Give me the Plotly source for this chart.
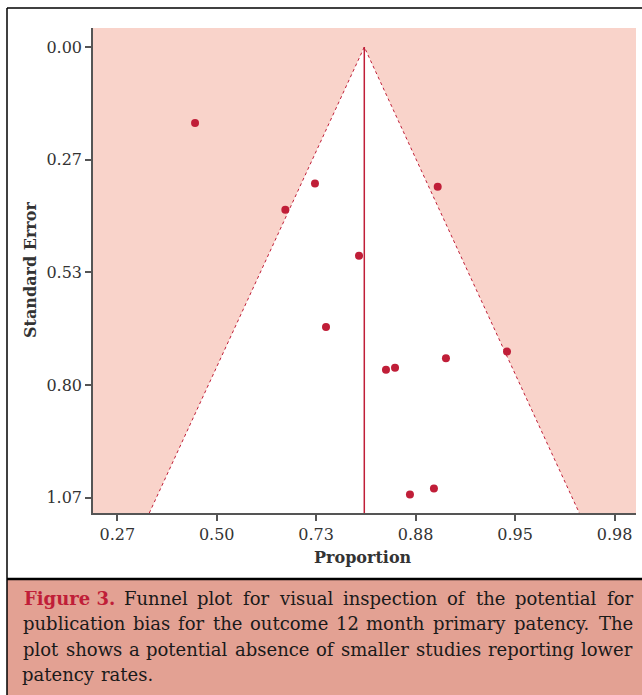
import plotly.graph_objects as go

# Study data: logit(proportion) and standard error
logit_prop = [-0.218, 0.988, 2.222, 0.690, 1.431, 1.099, 2.919, 2.305, 1.702, 1.793, 2.184, 1.943]
std_err = [0.180, 0.323, 0.331, 0.385, 0.494, 0.663, 0.721, 0.737, 0.764, 0.759, 1.045, 1.059]
pooled = 1.484
z = 1.96

x_tickvals = [-1, 0, 1, 2, 3, 4]
x_ticktext = ["0.27", "0.50", "0.73", "0.88", "0.95", "0.98"]
y_tickvals = [0, 0.26667, 0.53333, 0.8, 1.06667]
y_ticktext = ["0.00", "0.27", "0.53", "0.80", "1.07"]

x_range = [-1.244, 4.216]
y_range = [1.103, -0.045]
se_max = y_range[0]

caption_label = "Figure 3."
caption_lines = [
    "Funnel plot for visual inspection of the potential for",
    "publication bias for the outcome 12 month primary patency. The",
    "plot shows a potential absence of smaller studies reporting lower",
    "patency rates.",
]

RED = "#c01e38"
PINK = "#f9d3ca"
CAP_BG = "#e3a193"
FONT = "DejaVu Serif"

W, H = 642, 695
L, R, T, B = 93, 6, 28, 182
PW, PH = W - L - R, H - T - B

def px(x):
    return (x - L) / PW

def py(y):
    return (H - B - y) / PH

fig = go.Figure()

# white funnel region
fig.add_trace(go.Scatter(
    x=[pooled - z * se_max, pooled, pooled + z * se_max],
    y=[se_max, 0, se_max],
    fill="toself", fillcolor="white", mode="lines",
    line=dict(width=0), hoverinfo="skip", showlegend=False))
# funnel edges
fig.add_trace(go.Scatter(
    x=[pooled - z * se_max, pooled, pooled + z * se_max],
    y=[se_max, 0, se_max],
    mode="lines", line=dict(color=RED, width=1, dash="dot"),
    hoverinfo="skip", showlegend=False))
# pooled line
fig.add_trace(go.Scatter(
    x=[pooled, pooled], y=[0, se_max], mode="lines",
    line=dict(color=RED, width=1.5), showlegend=False))
# studies
fig.add_trace(go.Scatter(
    x=logit_prop, y=std_err, mode="markers",
    marker=dict(color=RED, size=8), showlegend=False))

axis_common = dict(
    showline=True, linecolor="#555", linewidth=1.5, ticks="outside",
    ticklen=6, tickwidth=1.5, tickcolor="#555", showgrid=False, zeroline=False,
    tickfont=dict(family=FONT, size=16, color="#333"))

fig.update_xaxes(range=x_range, tickvals=x_tickvals, ticktext=x_ticktext, **axis_common)
fig.update_yaxes(range=y_range, tickvals=y_tickvals, ticktext=y_ticktext, **axis_common)

shapes = [
    dict(type="rect", xref="paper", yref="paper", x0=px(7), x1=px(650),
         y0=py(700), y1=py(579), fillcolor=CAP_BG, line=dict(width=0), layer="above"),
    dict(type="line", xref="paper", yref="paper", x0=px(7), x1=px(650),
         y0=py(8), y1=py(8), line=dict(color="black", width=1.5)),
    dict(type="line", xref="paper", yref="paper", x0=px(7), x1=px(7),
         y0=py(8), y1=py(700), line=dict(color="black", width=1.5)),
    dict(type="line", xref="paper", yref="paper", x0=px(7), x1=px(650),
         y0=py(579), y1=py(579), line=dict(color="black", width=2.5)),
]

annotations = [
    dict(text="<b>Standard Error</b>", xref="paper", yref="paper", x=px(30), y=py(270),
         textangle=-90, showarrow=False, font=dict(family=FONT, size=16, color="#333"),
         xanchor="center", yanchor="middle"),
    dict(text="<b>Proportion</b>", xref="paper", yref="paper", x=px(363), y=py(557),
         showarrow=False, font=dict(family=FONT, size=16, color="#333"),
         xanchor="center", yanchor="middle"),
]

# approximate DejaVu Serif advance widths (em) for justifying the caption
CW = {' ': .318, 'a': .596, 'b': .640, 'c': .560, 'd': .640, 'e': .592, 'f': .370,
      'g': .640, 'h': .644, 'i': .320, 'j': .310, 'k': .606, 'l': .320, 'm': .948,
      'n': .644, 'o': .602, 'p': .640, 'q': .640, 'r': .478, 's': .513, 't': .402,
      'u': .644, 'v': .565, 'w': .856, 'x': .564, 'y': .565, 'z': .527, '.': .318,
      '1': .636, '2': .636, 'T': .670}
CAP_FS = 18
X0, X1 = 23, 633
LINE_Y0, LINE_DY = 598, 25.5

def word_w(w, bold=False):
    if bold:
        return 5.12 * CAP_FS
    return sum(CW.get(c, .6) for c in w) * CAP_FS

for i, line in enumerate(caption_lines):
    words = [(w, False) for w in line.split()]
    if i == 0:
        words = [(caption_label, True)] + words
    widths = [word_w(w, b) for w, b in words]
    natural_gap = CW[' '] * CAP_FS
    last = i == len(caption_lines) - 1
    if last or len(words) < 2:
        gap = natural_gap
    else:
        gap = (X1 - X0 - sum(widths)) / (len(words) - 1)
    x = X0
    for (w, b), ww in zip(words, widths):
        txt = "<b>%s</b>" % w if b else w
        annotations.append(dict(
            text=txt, xref="paper", yref="paper", x=px(x + ww / 2), y=py(LINE_Y0 + i * LINE_DY),
            showarrow=False, xanchor="center", yanchor="middle",
            font=dict(family=FONT, size=CAP_FS, color=RED if b else "#1a1a1a")))
        x += ww + gap

fig.update_layout(
    width=W, height=H, margin=dict(l=L, r=R, t=T, b=B),
    paper_bgcolor="white", plot_bgcolor=PINK,
    shapes=shapes, annotations=annotations)

fig.write_html("out.html")
